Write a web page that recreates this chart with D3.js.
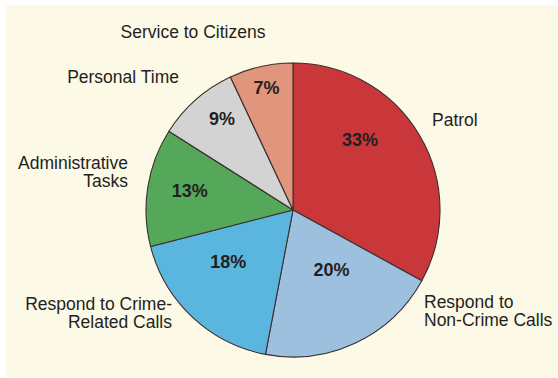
<!DOCTYPE html>
<html>
<head>
<meta charset="utf-8">
<script src="https://cdn.jsdelivr.net/npm/d3@7"></script>
<style>
  html, body { margin: 0; padding: 0; background: #ffffff; }
  svg { display: block; }
</style>
</head>
<body>
<svg id="chart" width="558" height="378"></svg>
<script>
// How a patrol officer's working time is spent (percent of shift)
const categories = [
  "Patrol",
  "Respond to Non-Crime Calls",
  "Respond to Crime-Related Calls",
  "Administrative Tasks",
  "Personal Time",
  "Service to Citizens"
];
const shares = [33, 20, 18, 13, 9, 7];
const sliceColors = ["#c9373a", "#9dc0de", "#5ab5df", "#55a85a", "#d3d3d3", "#e0957c"];

// Category names as printed beside the pie (line breaks included)
const nameLines = [
  ["Patrol"],
  ["Respond to", "Non-Crime Calls"],
  ["Respond to Crime-", "Related Calls"],
  ["Administrative", "Tasks"],
  ["Personal Time"],
  ["Service to Citizens"]
];

// Layout
const W = 558, H = 378;
const cx = 293, cy = 210, R = 147;
// where each percentage sits: [angle in degrees clockwise from 12 o'clock, distance from centre]
const pctPlacement = [[43.7, 97], [147.2, 71], [231.3, 83], [280.5, 105], [322.2, 116], [347.8, 125]];
// outer name labels: anchor point of first baseline and alignment
const namePlacement = [
  { x: 432, y: 126, anchor: "start" },
  { x: 424, y: 308, anchor: "start" },
  { x: 172, y: 310, anchor: "end" },
  { x: 128, y: 169, anchor: "end" },
  { x: 179, y: 83, anchor: "end" },
  { x: 193, y: 38, anchor: "middle" }
];
const lineGap = 17.5;

const svg = d3.select("#chart");

// cream panel
svg.append("rect")
  .attr("x", 6).attr("y", 5)
  .attr("width", W - 6).attr("height", H - 5)
  .attr("fill", "#fdf9e7");

const data = categories.map((c, i) => ({ name: c, value: shares[i], color: sliceColors[i], i }));

const pie = d3.pie().sort(null).value(d => d.value).startAngle(0).endAngle(2 * Math.PI);
const arc = d3.arc().innerRadius(0).outerRadius(R);

const g = svg.append("g").attr("transform", `translate(${cx},${cy})`);

g.selectAll("path.slice")
  .data(pie(data))
  .join("path")
  .attr("class", "slice")
  .attr("d", arc)
  .attr("fill", d => d.data.color)
  .attr("stroke", "#3b2f2f")
  .attr("stroke-width", 1.1)
  .attr("stroke-linejoin", "round");

// percentage labels inside the slices
g.selectAll("text.pct")
  .data(pie(data))
  .join("text")
  .attr("class", "pct")
  .attr("x", d => {
    const [a, r] = pctPlacement[d.data.i];
    return r * Math.sin(a * Math.PI / 180);
  })
  .attr("y", d => {
    const [a, r] = pctPlacement[d.data.i];
    return -r * Math.cos(a * Math.PI / 180);
  })
  .attr("dy", "0.36em")
  .attr("text-anchor", "middle")
  .attr("font-family", "'Liberation Sans', Arial, sans-serif")
  .attr("font-weight", "bold")
  .attr("font-size", "18px")
  .attr("fill", "#231f20")
  .text(d => d.data.value + "%");

// category names around the pie
const names = svg.selectAll("text.name")
  .data(data)
  .join("text")
  .attr("class", "name")
  .attr("x", d => namePlacement[d.i].x)
  .attr("y", d => namePlacement[d.i].y)
  .attr("text-anchor", d => namePlacement[d.i].anchor)
  .attr("font-family", "'Liberation Sans', Arial, sans-serif")
  .attr("font-size", "17.5px")
  .attr("fill", "#231f20");

names.selectAll("tspan")
  .data(d => nameLines[d.i].map((t, k) => ({ t, k, x: namePlacement[d.i].x })))
  .join("tspan")
  .attr("x", d => d.x)
  .attr("dy", d => d.k === 0 ? 0 : lineGap)
  .text(d => d.t);
</script>
</body>
</html>
